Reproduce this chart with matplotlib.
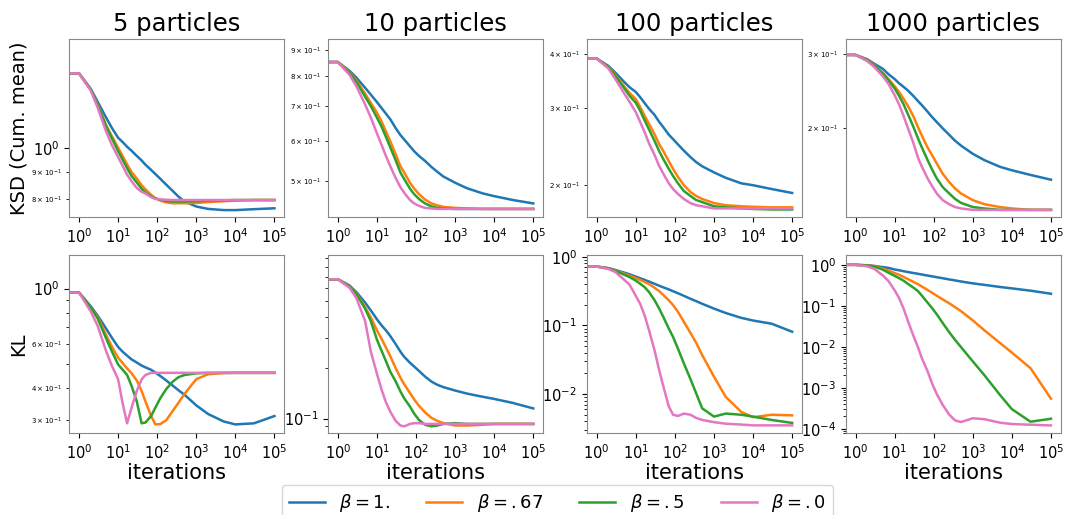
import numpy as np
import matplotlib.pyplot as plt

iters = [0.5, 1, 2, 3, 5, 7, 10, 13, 17, 22, 30, 40, 50, 70, 90, 120, 170, 250,
         350, 500, 1000, 2000, 5000, 1e4, 3e4, 1e5]

particles = [5, 10, 100, 1000]
labels = [r'$\beta=1.$', r'$\beta=.67$', r'$\beta=.5$', r'$\beta=.0$']
colores = ['tab:blue', 'tab:orange', 'tab:green', 'tab:pink']

# KSD (cumulative mean), one row per beta: 1., .67, .5, .0
ksd_5 = [
    [1.38, 1.38, 1.29, 1.22, 1.137, 1.088, 1.044, 1.025, 1.004, 0.987, 0.965, 0.946, 0.929, 0.908, 0.892, 0.874, 0.852, 0.829, 0.809, 0.792, 0.775, 0.767, 0.763, 0.763, 0.766, 0.769],
    [1.38, 1.38, 1.285, 1.205, 1.10, 1.05, 1.0, 0.965, 0.93, 0.90, 0.875, 0.85, 0.835, 0.815, 0.803, 0.795, 0.789, 0.786, 0.786, 0.786, 0.787, 0.79, 0.793, 0.795, 0.797, 0.797],
    [1.38, 1.38, 1.285, 1.2, 1.095, 1.04, 0.985, 0.95, 0.915, 0.885, 0.86, 0.837, 0.823, 0.81, 0.803, 0.798, 0.794, 0.792, 0.792, 0.792, 0.793, 0.795, 0.796, 0.797, 0.797, 0.797],
    [1.38, 1.38, 1.28, 1.19, 1.07, 1.01, 0.96, 0.925, 0.89, 0.865, 0.84, 0.826, 0.82, 0.807, 0.801, 0.799, 0.798, 0.797, 0.797, 0.797, 0.797, 0.797, 0.797, 0.797, 0.797, 0.797],
]
ksd_10 = [
    [0.853, 0.853, 0.82, 0.795, 0.76, 0.737, 0.713, 0.695, 0.677, 0.66, 0.635, 0.615, 0.603, 0.585, 0.572, 0.56, 0.548, 0.533, 0.522, 0.511, 0.497, 0.485, 0.474, 0.468, 0.46, 0.453],
    [0.853, 0.853, 0.815, 0.785, 0.74, 0.71, 0.68, 0.655, 0.625, 0.598, 0.565, 0.535, 0.52, 0.497, 0.484, 0.472, 0.461, 0.453, 0.449, 0.446, 0.444, 0.443, 0.442, 0.442, 0.442, 0.442],
    [0.853, 0.853, 0.812, 0.78, 0.73, 0.70, 0.665, 0.64, 0.61, 0.582, 0.55, 0.52, 0.505, 0.484, 0.472, 0.462, 0.453, 0.447, 0.444, 0.443, 0.442, 0.442, 0.442, 0.442, 0.442, 0.442],
    [0.853, 0.853, 0.805, 0.765, 0.705, 0.665, 0.62, 0.59, 0.56, 0.535, 0.508, 0.487, 0.475, 0.46, 0.453, 0.448, 0.444, 0.443, 0.442, 0.442, 0.442, 0.442, 0.442, 0.442, 0.442, 0.442],
]
ksd_100 = [
    [0.39, 0.39, 0.375, 0.362, 0.345, 0.335, 0.327, 0.318, 0.308, 0.299, 0.29, 0.279, 0.272, 0.261, 0.255, 0.248, 0.240, 0.232, 0.226, 0.221, 0.214, 0.208, 0.202, 0.2, 0.196, 0.192],
    [0.39, 0.39, 0.373, 0.358, 0.337, 0.325, 0.315, 0.302, 0.288, 0.276, 0.262, 0.248, 0.24, 0.227, 0.218, 0.209, 0.2, 0.193, 0.189, 0.186, 0.182, 0.18, 0.179, 0.1785, 0.178, 0.178],
    [0.39, 0.39, 0.372, 0.356, 0.334, 0.32, 0.309, 0.296, 0.281, 0.268, 0.253, 0.239, 0.23, 0.218, 0.21, 0.202, 0.194, 0.189, 0.185, 0.183, 0.179, 0.178, 0.177, 0.1765, 0.176, 0.176],
    [0.39, 0.39, 0.37, 0.35, 0.325, 0.31, 0.294, 0.279, 0.264, 0.249, 0.235, 0.221, 0.213, 0.202, 0.196, 0.191, 0.186, 0.182, 0.18, 0.179, 0.177, 0.177, 0.177, 0.177, 0.177, 0.177],
]
ksd_1000 = [
    [0.299, 0.299, 0.292, 0.285, 0.277, 0.269, 0.262, 0.256, 0.251, 0.246, 0.239, 0.232, 0.227, 0.219, 0.213, 0.207, 0.2, 0.193, 0.187, 0.182, 0.174, 0.168, 0.162, 0.159, 0.155, 0.151],
    [0.299, 0.299, 0.291, 0.283, 0.271, 0.262, 0.252, 0.244, 0.235, 0.226, 0.214, 0.201, 0.192, 0.18, 0.173, 0.165, 0.156, 0.149, 0.144, 0.14, 0.135, 0.132, 0.13, 0.129, 0.128, 0.128],
    [0.299, 0.299, 0.29, 0.282, 0.27, 0.26, 0.249, 0.239, 0.228, 0.216, 0.202, 0.189, 0.18, 0.168, 0.16, 0.152, 0.145, 0.14, 0.136, 0.133, 0.13, 0.129, 0.128, 0.128, 0.128, 0.128],
    [0.299, 0.299, 0.289, 0.28, 0.266, 0.255, 0.24, 0.228, 0.214, 0.2, 0.185, 0.17, 0.162, 0.152, 0.146, 0.14, 0.135, 0.132, 0.13, 0.129, 0.128, 0.128, 0.128, 0.128, 0.128, 0.128],
]

# KL divergence
kl_5 = [
    [0.964, 0.964, 0.85, 0.78, 0.69, 0.635, 0.585, 0.56, 0.54, 0.522, 0.507, 0.493, 0.485, 0.474, 0.462, 0.448, 0.43, 0.41, 0.393, 0.377, 0.342, 0.316, 0.295, 0.287, 0.29, 0.31],
    [0.964, 0.964, 0.84, 0.77, 0.65, 0.585, 0.53, 0.505, 0.48, 0.46, 0.43, 0.39, 0.355, 0.31, 0.287, 0.288, 0.298, 0.325, 0.35, 0.38, 0.435, 0.455, 0.46, 0.461, 0.461, 0.461],
    [0.964, 0.964, 0.84, 0.76, 0.63, 0.56, 0.498, 0.475, 0.452, 0.41, 0.355, 0.29, 0.292, 0.31, 0.335, 0.365, 0.397, 0.425, 0.443, 0.452, 0.459, 0.461, 0.461, 0.461, 0.461, 0.461],
    [0.964, 0.964, 0.81, 0.71, 0.56, 0.49, 0.435, 0.35, 0.29, 0.334, 0.39, 0.434, 0.452, 0.461, 0.461, 0.461, 0.461, 0.461, 0.461, 0.461, 0.461, 0.461, 0.461, 0.461, 0.461, 0.461],
]
kl_10 = [
    [0.675, 0.675, 0.62, 0.565, 0.49, 0.44, 0.39, 0.36, 0.335, 0.31, 0.278, 0.25, 0.233, 0.215, 0.204, 0.192, 0.178, 0.166, 0.159, 0.154, 0.147, 0.141, 0.135, 0.131, 0.124, 0.115],
    [0.675, 0.675, 0.615, 0.555, 0.46, 0.40, 0.335, 0.30, 0.265, 0.235, 0.20, 0.175, 0.16, 0.142, 0.13, 0.119, 0.109, 0.101, 0.097, 0.094, 0.091, 0.091, 0.092, 0.093, 0.093, 0.093],
    [0.675, 0.675, 0.61, 0.55, 0.45, 0.38, 0.295, 0.255, 0.22, 0.19, 0.167, 0.145, 0.132, 0.118, 0.107, 0.098, 0.092, 0.09, 0.091, 0.093, 0.094, 0.093, 0.093, 0.093, 0.093, 0.093],
    [0.675, 0.675, 0.60, 0.52, 0.38, 0.25, 0.185, 0.15, 0.125, 0.11, 0.097, 0.091, 0.09, 0.093, 0.094, 0.094, 0.093, 0.093, 0.093, 0.093, 0.093, 0.093, 0.093, 0.093, 0.093, 0.093],
]
kl_100 = [
    [0.722, 0.722, 0.685, 0.645, 0.59, 0.555, 0.515, 0.487, 0.46, 0.435, 0.405, 0.378, 0.36, 0.335, 0.315, 0.295, 0.27, 0.245, 0.226, 0.207, 0.176, 0.152, 0.129, 0.118, 0.106, 0.081],
    [0.722, 0.722, 0.68, 0.635, 0.57, 0.53, 0.49, 0.46, 0.43, 0.40, 0.355, 0.315, 0.28, 0.232, 0.198, 0.158, 0.113, 0.078, 0.056, 0.037, 0.018, 0.0091, 0.0055, 0.0046, 0.005, 0.0049],
    [0.722, 0.722, 0.675, 0.625, 0.55, 0.505, 0.45, 0.405, 0.36, 0.305, 0.235, 0.175, 0.135, 0.09, 0.068, 0.046, 0.028, 0.0166, 0.0103, 0.0062, 0.0047, 0.0052, 0.005, 0.0047, 0.0042, 0.0038],
    [0.722, 0.722, 0.665, 0.6, 0.466, 0.39, 0.27, 0.206, 0.138, 0.084, 0.044, 0.022, 0.0134, 0.0066, 0.005, 0.0048, 0.0052, 0.005, 0.0045, 0.0042, 0.0039, 0.0037, 0.0036, 0.0035, 0.0035, 0.0035],
]
kl_1000 = [
    [1.0, 1.0, 0.975, 0.94, 0.88, 0.84, 0.77, 0.735, 0.70, 0.667, 0.632, 0.603, 0.58, 0.547, 0.525, 0.499, 0.471, 0.44, 0.417, 0.392, 0.353, 0.324, 0.288, 0.266, 0.234, 0.197],
    [1.0, 1.0, 0.97, 0.93, 0.81, 0.724, 0.63, 0.569, 0.506, 0.447, 0.385, 0.335, 0.295, 0.243, 0.209, 0.176, 0.143, 0.115, 0.093, 0.074, 0.044, 0.025, 0.0123, 0.0072, 0.003, 0.00054],
    [1.0, 1.0, 0.965, 0.91, 0.76, 0.64, 0.54, 0.473, 0.41, 0.343, 0.279, 0.226, 0.176, 0.119, 0.089, 0.062, 0.038, 0.0226, 0.0148, 0.0098, 0.0044, 0.002, 0.00066, 0.0003, 0.000148, 0.000175],
    [1.0, 1.0, 0.92, 0.80, 0.55, 0.40, 0.24, 0.155, 0.085, 0.042, 0.019, 0.0095, 0.0052, 0.0025, 0.0013, 0.0007, 0.00038, 0.00022, 0.00016, 0.000145, 0.00018, 0.00017, 0.00014, 0.00013, 0.000125, 0.00012],
]

filas = [[ksd_5, ksd_10, ksd_100, ksd_1000], [kl_5, kl_10, kl_100, kl_1000]]
limites_y = [[(0.74, 1.6), (0.426, 0.945), (0.169, 0.432), (0.123, 0.326)],
             [(0.265, 1.36), (0.082, 0.94), (0.0027, 1.06), (7.8e-5, 1.73)]]
nombres_y = ['KSD (Cum. mean)', 'KL']

fig, axs = plt.subplots(2, 4, figsize=(10.65, 5.15), dpi=100)
fig.subplots_adjust(left=0.065, right=0.996, top=0.924, bottom=0.159,
                    wspace=0.204, hspace=0.213)

for i in range(2):
    for j in range(4):
        ax = axs[i, j]
        for k in range(4):
            ax.plot(iters, filas[i][j][k], color=colores[k], lw=1.8, label=labels[k])
        ax.set_xscale('log')
        ax.set_yscale('log')
        ax.set_xlim(10 ** -0.25, 10 ** 5.25)
        ax.set_ylim(*limites_y[i][j])
        ax.set_xticks([1, 10, 100, 1e3, 1e4, 1e5])
        ax.tick_params(which='major', labelsize=10.5)
        ax.tick_params(axis='y', which='minor', labelsize=5)
        for s in ax.spines.values():
            s.set_color('#888888')
        if i == 0:
            ax.set_title(f'{particles[j]} particles', fontsize=17.5)
        else:
            ax.set_xlabel('iterations', fontsize=15, labelpad=1)
        if j == 0:
            ax.set_ylabel(nombres_y[i], fontsize=14)
            ax.yaxis.set_label_coords(-0.19, 0.5)

handles, _ = axs[0, 0].get_legend_handles_labels()
fig.legend(handles, labels, loc='lower center', ncol=4, fontsize=13,
           bbox_to_anchor=(0.5235, -0.03), columnspacing=2.0)

fig.savefig('out.png', dpi=100)
